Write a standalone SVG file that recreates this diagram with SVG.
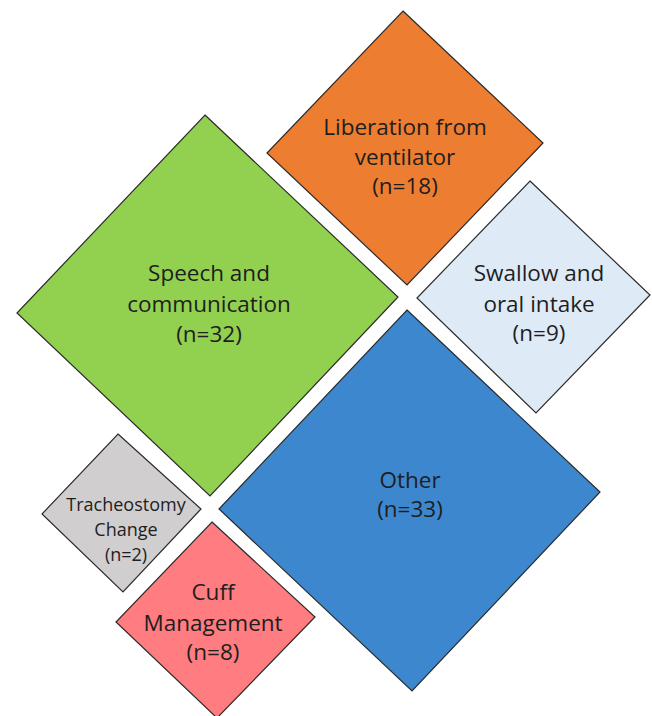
<svg xmlns="http://www.w3.org/2000/svg" width="652" height="716" viewBox="0 0 652 716">
<style>
.d{stroke:#2b2b2b;stroke-width:1.2;stroke-linejoin:miter}
.t{font-family:"Open Sans",Lato,"Liberation Sans",sans-serif;fill:#1e1e1e;text-anchor:middle}
.l{font-size:22.5px}
.s{font-size:18px}
</style>
<rect width="652" height="716" fill="#ffffff"/>
<g id="liberation">
<polygon class="d" fill="#ED7D31" points="403,11 543,143 407,285 267,153"/>
<text class="t l" x="405" y="135">Liberation from</text>
<text class="t l" x="405" y="165">ventilator</text>
<text class="t l" x="405" y="194">(n=18)</text>
</g>
<g id="speech">
<polygon class="d" fill="#92D050" points="205,115 398,297 210,496 17,313"/>
<text class="t l" x="209" y="281">Speech and</text>
<text class="t l" x="209" y="312">communication</text>
<text class="t l" x="209" y="342">(n=32)</text>
</g>
<g id="swallow">
<polygon class="d" fill="#DEEBF7" points="530,181 650,295 536,413 417,298"/>
<text class="t l" x="539" y="281">Swallow and</text>
<text class="t l" x="539" y="312">oral intake</text>
<text class="t l" x="539" y="341">(n=9)</text>
</g>
<g id="other">
<polygon class="d" fill="#3D87CE" points="407,310 600,492 412,691 219,509"/>
<text class="t l" x="410" y="488">Other</text>
<text class="t l" x="410" y="517">(n=33)</text>
</g>
<g id="tracheostomy">
<polygon class="d" fill="#D0CECE" points="118,434 201,509 123,592 42,514"/>
<text class="t s" x="126" y="511">Tracheostomy</text>
<text class="t s" x="126" y="536">Change</text>
<text class="t s" x="126" y="561">(n=2)</text>
</g>
<g id="cuff">
<polygon class="d" fill="#FF7C80" points="212,522 315,617 217,718 116,622"/>
<text class="t l" x="213" y="600">Cuff</text>
<text class="t l" x="213" y="631">Management</text>
<text class="t l" x="213" y="660">(n=8)</text>
</g>
<g id="connectors"></g>
</svg>
